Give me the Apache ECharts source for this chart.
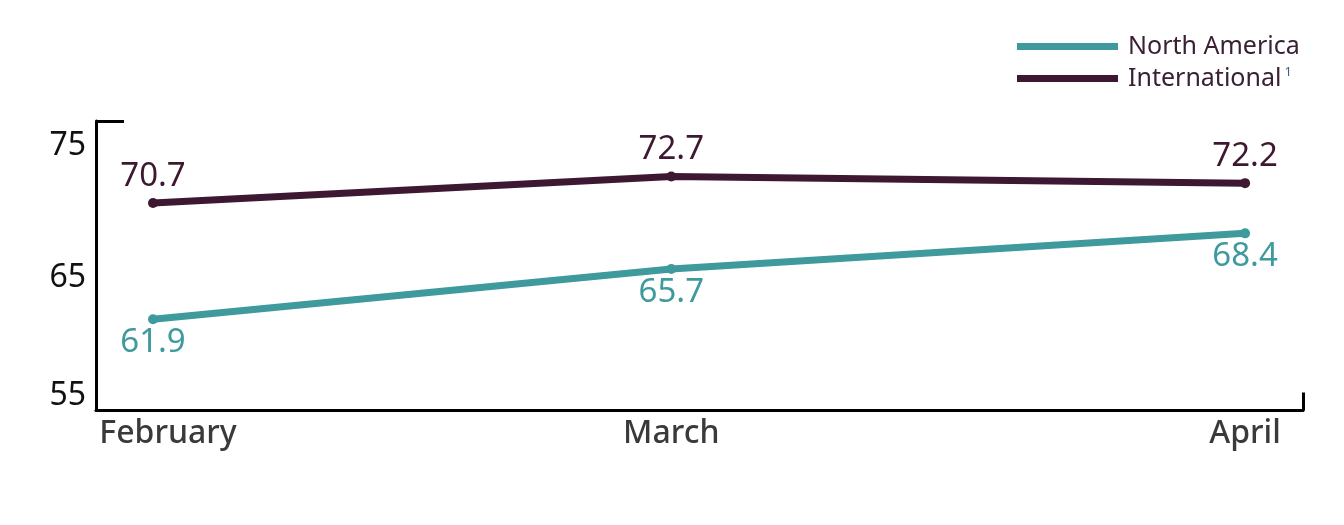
<!DOCTYPE html>
<html>
<head>
<meta charset="utf-8">
<script src="https://cdn.jsdelivr.net/npm/echarts@6/dist/echarts.min.js"></script>
<style>
html,body{margin:0;padding:0;background:#fff;}
#chart{width:1344px;height:525px;}
</style>
</head>
<body>
<div id="chart"></div>
<script>
const categories = ['February', 'March', 'April'];
const dates = ['2021-02-01', '2021-03-01', '2021-04-01'];
const seriesNames = ['North America', 'International'];
const northAmerica = [61.9, 65.7, 68.4];
const international = [70.7, 72.7, 72.2];
const yTicks = [55, 65, 75];
const footnote = '1';

const DAY = 86400000;
// days since first date (keeps the real uneven month spacing)
const t0 = +new Date(dates[0] + 'T00:00:00Z');
const days = dates.map(d => (+new Date(d + 'T00:00:00Z') - t0) / DAY);
const xMin = days[0] - 3.08;
const xMax = days[days.length - 1] + 3.13;
const yMin = 55, yMax = 76.9;

const teal = '#3e9a9d';
const plum = '#3d1830';
const font = '"Noto Sans", Lato, sans-serif';

const chart = echarts.init(document.getElementById('chart'));
chart.setOption({
  animation: false,
  grid: { left: 96, right: 41, top: 121, bottom: 114.5 },
  legend: {
    orient: 'vertical',
    left: 1012,
    top: 29,
    itemWidth: 101,
    itemHeight: 7,
    itemGap: 7,
    icon: 'rect',
    data: seriesNames,
    formatter: function (name) {
      return name === seriesNames[1] ? '{n|' + name + '}{sup|' + footnote + '}' : '{n|' + name + '}';
    },
    textStyle: {
      fontFamily: font,
      color: '#3a2034',
      rich: {
        n: { fontSize: 25, lineHeight: 25, fontFamily: font, color: '#3a2034', padding: [0, 0, 0, 5] },
        sup: { fontSize: 13, lineHeight: 25, fontFamily: font, color: '#4a5a8a', verticalAlign: 'top', padding: [0, 0, 10, 3] }
      }
    }
  },
  xAxis: {
    type: 'value',
    min: xMin,
    max: xMax,
    axisLine: { show: true, onZero: false, lineStyle: { color: '#000', width: 3 } },
    axisTick: { show: true, inside: true, length: 18, customValues: [xMax], lineStyle: { color: '#000', width: 3 } },
    splitLine: { show: false },
    axisLabel: {
      customValues: days,
      margin: 7,
      fontSize: 32,
      fontWeight: 500,
      fontFamily: font,
      color: '#3a3a3a',
      formatter: function (v) {
        const i = days.indexOf(v);
        const name = i >= 0 ? categories[i] : '';
        return i === 0 ? '{first|' + name + '}' : '{m|' + name + '}';
      },
      rich: {
        first: { fontSize: 32, fontWeight: 500, fontFamily: font, color: '#3a3a3a', padding: [0, 0, 0, 30] },
        m: { fontSize: 32, fontWeight: 500, fontFamily: font, color: '#3a3a3a' }
      }
    }
  },
  yAxis: {
    type: 'value',
    min: yMin,
    max: yMax,
    interval: 10,
    axisLine: { show: true, onZero: false, lineStyle: { color: '#000', width: 3 } },
    axisTick: { show: true, inside: true, length: 28, customValues: [yMax], lineStyle: { color: '#000', width: 3 } },
    splitLine: { show: false },
    axisLabel: {
      customValues: yTicks,
      margin: 10,
      fontSize: 32,
      fontFamily: font,
      color: '#111',
      formatter: function (v) {
        return v === yTicks[0] ? '{low|' + v + '}' : '{t|' + v + '}';
      },
      rich: {
        t: { fontSize: 32, fontFamily: font, color: '#111' },
        low: { fontSize: 32, fontFamily: font, color: '#111', padding: [0, 0, 30, 0] }
      }
    }
  },
  series: [
    {
      name: seriesNames[0],
      type: 'line',
      data: days.map((d, i) => [d, northAmerica[i]]),
      color: teal,
      lineStyle: { width: 7, color: teal },
      symbol: 'circle',
      symbolSize: 10,
      itemStyle: { color: teal },
      label: {
        show: true, position: 'bottom', distance: 2,
        fontSize: 33, fontFamily: font, color: teal,
        formatter: p => p.value[1].toFixed(1)
      }
    },
    {
      name: seriesNames[1],
      type: 'line',
      data: days.map((d, i) => [d, international[i]]),
      color: plum,
      lineStyle: { width: 7, color: plum },
      symbol: 'circle',
      symbolSize: 10,
      itemStyle: { color: plum },
      label: {
        show: true, position: 'top', distance: 5,
        fontSize: 33, fontFamily: font, color: plum,
        formatter: p => p.value[1].toFixed(1)
      }
    }
  ]
});
</script>
</body>
</html>
